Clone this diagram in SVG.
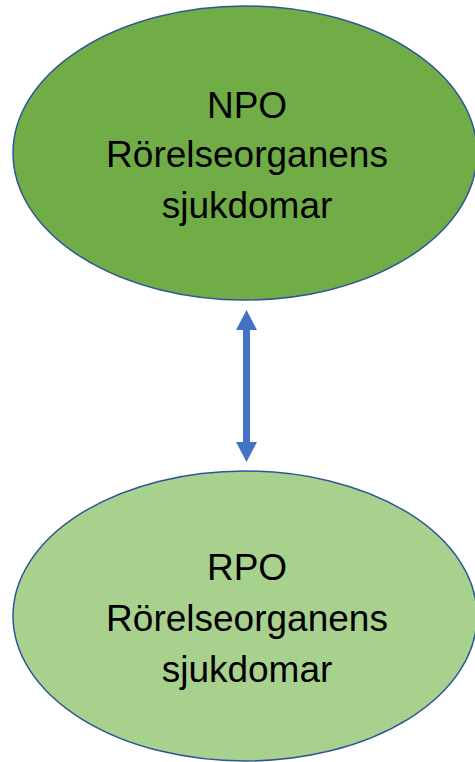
<svg xmlns="http://www.w3.org/2000/svg" width="475" height="762" viewBox="0 0 475 762">
<style>
.node{stroke:#2F5597;stroke-width:1.5}
.lbl{font-family:"Liberation Sans",Arial,sans-serif;font-size:37px;fill:#000;text-anchor:middle}
</style>
<rect width="475" height="762" fill="#fff"/>
<g id="connectors">
<polygon points="246.5,310 257,330 250,330 250,442 257,442 246.5,462 236,442 243,442 243,330 236,330" fill="#4472C4"/>
</g>
<g id="npo">
<ellipse class="node" cx="245" cy="153" rx="232" ry="147" fill="#70AD47"/>
<text class="lbl" x="247" y="118">NPO</text>
<text class="lbl" x="247" y="167">Rörelseorganens</text>
<text class="lbl" x="247" y="218">sjukdomar</text>
</g>
<g id="rpo">
<ellipse class="node" cx="245" cy="616" rx="232" ry="145" fill="#A9D18E"/>
<text class="lbl" x="247" y="580">RPO</text>
<text class="lbl" x="247" y="631">Rörelseorganens</text>
<text class="lbl" x="247" y="682">sjukdomar</text>
</g>
</svg>
